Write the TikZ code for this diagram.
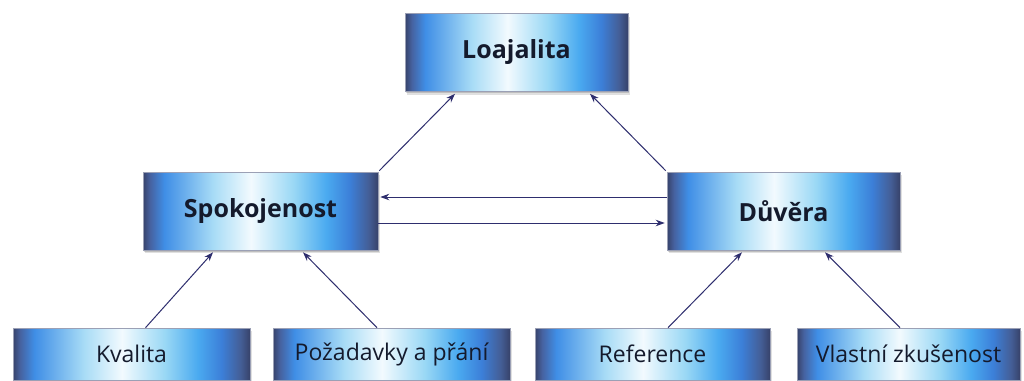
\documentclass[tikz,border=0pt]{standalone}
\usepackage{fontspec}
\setmainfont{Open Sans}
\usetikzlibrary{arrows.meta,shadows}
\definecolor{bdark}{HTML}{37426A}
\definecolor{bnavy}{HTML}{4662A0}
\definecolor{bblue}{HTML}{3F8EE6}
\definecolor{blight}{HTML}{A8DCF6}
\definecolor{bwhite}{HTML}{F2FAFE}
\definecolor{bcyan}{HTML}{9AD8F5}
\definecolor{bsky}{HTML}{4AAAF0}
\definecolor{bdeep}{HTML}{3C7FD8}
\definecolor{bslate}{HTML}{445E96}
\definecolor{arrowc}{HTML}{2E2E6E}
\definecolor{txtc}{HTML}{141A2C}
\pgfdeclarehorizontalshading{boxshade}{100bp}{color(0bp)=(bdark); color(25bp)=(bdark); color(26.5bp)=(bnavy); color(29.5bp)=(bblue); color(40bp)=(blight); color(48bp)=(bwhite); color(57bp)=(bcyan); color(64bp)=(bsky); color(69bp)=(bdeep); color(73bp)=(bslate); color(75bp)=(bdark); color(100bp)=(bdark)}
\tikzset{
  box/.style={rectangle, inner sep=0pt, shading=boxshade, draw=bdark!50, line width=0.6pt,
    drop shadow={shadow xshift=2pt, shadow yshift=-3pt, fill=black, opacity=0.12},
    drop shadow={shadow xshift=1pt, shadow yshift=-1.5pt, fill=black, opacity=0.15},
    text=txtc},
  topbox/.style={box, minimum width=#1, minimum height=78pt, font=\bfseries\fontsize{25}{30}\selectfont},
  lowbox/.style={box, minimum width=#1, minimum height=52pt, font=\fontsize{23}{27}\selectfont},
  arr/.style={draw=arrowc, line width=1pt, -{Stealth[length=9pt,width=6.5pt]}}
}
\begin{document}
\begin{tikzpicture}[x=1pt,y=-1pt]
\useasboundingbox (0,0) rectangle (1024,380);
\fill[white] (0,0) rectangle (1024,380);
\node[topbox=223pt] (loaj) at (516.5,52.5) {Loajalita};
\node[topbox=235pt] (spok) at (260.5,211) {Spokojenost};
\node[topbox=233pt] (duv) at (783.5,211) {Důvěra};
\node[lowbox=237pt] (kval) at (131.5,354) {Kvalita};
\node[lowbox=237pt] (poz) at (391.5,354) {Požadavky a přání};
\node[lowbox=235pt] (ref) at (652.5,354) {Reference};
\node[lowbox=223pt] (vlas) at (908.5,354) {Vlastní zkušenost};
\draw[arr] ([xshift=14pt]kval.north) -- ([xshift=-47.5pt,yshift=-2pt]spok.south);
\draw[arr] ([xshift=-14.5pt]poz.north) -- ([xshift=42.5pt,yshift=-2pt]spok.south);
\draw[arr] ([xshift=15.5pt]ref.north) -- ([xshift=-41.5pt,yshift=-2pt]duv.south);
\draw[arr] ([xshift=-8.5pt]vlas.north) -- ([xshift=41.5pt,yshift=-2pt]duv.south);
\draw[arr] ([xshift=1pt,yshift=1pt]spok.north east) -- ([xshift=-61.5pt,yshift=-2pt]loaj.south);
\draw[arr] ([xshift=-1pt,yshift=1pt]duv.north west) -- ([xshift=73.5pt,yshift=-2pt]loaj.south);
\draw[arr] ([yshift=14pt]duv.west) -- ([xshift=2pt,yshift=14pt]spok.east);
\draw[arr] ([yshift=-12pt]spok.east) -- ([xshift=-2pt,yshift=-12pt]duv.west);
\end{tikzpicture}
\end{document}
